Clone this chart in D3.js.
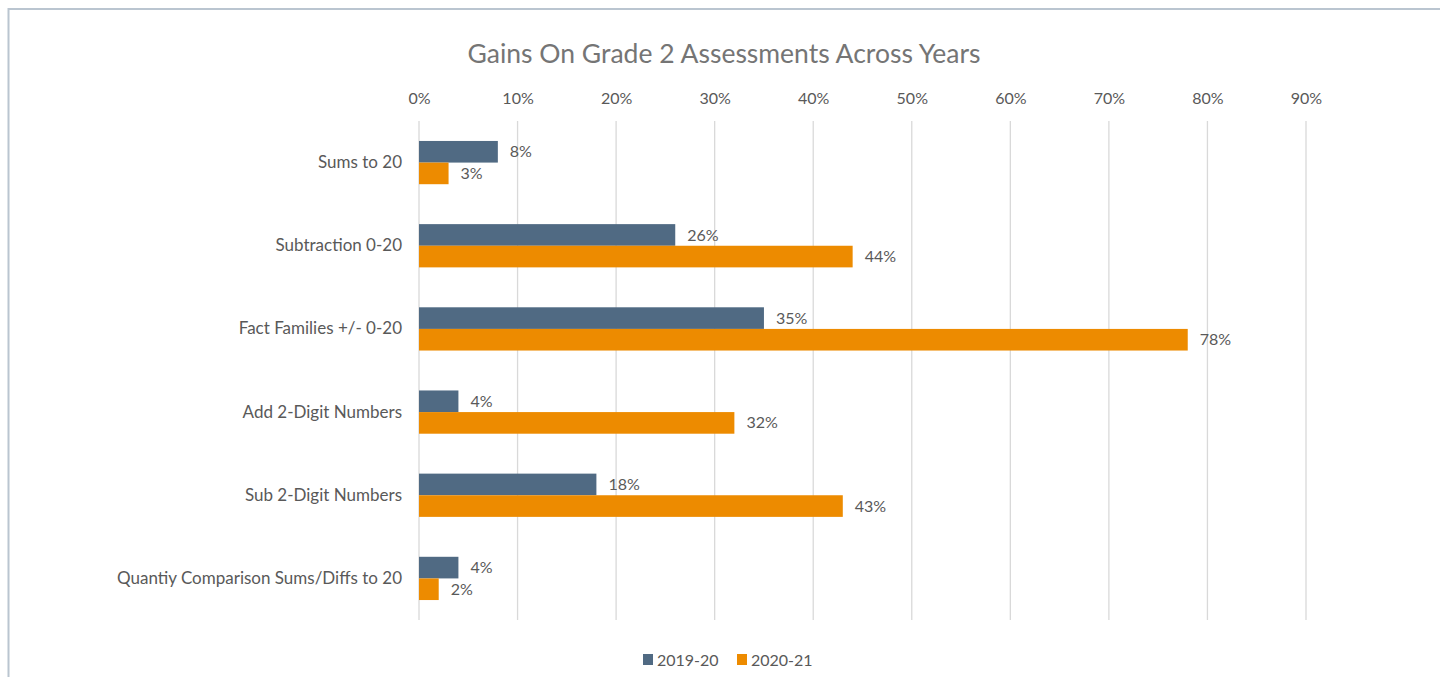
<!DOCTYPE html>
<html>
<head>
<meta charset="utf-8">
<script src="https://cdn.jsdelivr.net/npm/d3@7"></script>
<style>
  body { margin: 0; background: #fff; }
  svg { display: block; font-family: Lato, "Open Sans", sans-serif; }
</style>
</head>
<body>
<svg width="1440" height="677"></svg>
<script>
  const categories = [
    'Sums to 20',
    'Subtraction 0-20',
    'Fact Families +/- 0-20',
    'Add 2-Digit Numbers',
    'Sub 2-Digit Numbers',
    'Quantiy Comparison Sums/Diffs to 20'
  ];
  const seriesNames = ['2019-20', '2020-21'];
  const values1920 = [0.08, 0.26, 0.35, 0.04, 0.18, 0.04];
  const values2021 = [0.03, 0.44, 0.78, 0.32, 0.43, 0.02];
  const tickValues = [0, 0.1, 0.2, 0.3, 0.4, 0.5, 0.6, 0.7, 0.8, 0.9];

  const colors = ['#506A83', '#ED8B00'];
  const textColor = '#595959';

  const svg = d3.select('svg');

  // chart frame (cut off at right and bottom like the source)
  svg.append('rect')
    .attr('x', 8.5).attr('y', 9)
    .attr('width', 1500).attr('height', 800)
    .attr('fill', 'none')
    .attr('stroke', '#BAC5D0')
    .attr('stroke-width', 2);

  const x = d3.scaleLinear().domain([0, 0.9]).range([419, 1306]);
  const y = d3.scaleBand().domain(categories).range([121, 620]).paddingInner(0.48).paddingOuter(0.24);
  const sub = d3.scaleBand().domain(seriesNames).range([0, y.bandwidth()]);

  svg.append('text')
    .attr('x', 724).attr('y', 63)
    .attr('text-anchor', 'middle')
    .attr('fill', '#757575')
    .style('font-size', '26.5px')
    .text('Gains On Grade 2 Assessments Across Years');

  // gridlines
  svg.append('g').selectAll('line')
    .data(tickValues)
    .enter().append('line')
      .attr('x1', d => x(d)).attr('x2', d => x(d))
      .attr('y1', 121).attr('y2', 620)
      .attr('stroke', '#D9D9D9')
      .attr('stroke-width', 1.3);

  // top axis
  const axis = d3.axisTop(x).tickValues(tickValues).tickFormat(d3.format('.0%')).tickSize(0).tickPadding(0);
  const ag = svg.append('g').attr('transform', 'translate(0,104)').call(axis);
  ag.select('.domain').remove();
  ag.selectAll('text')
    .attr('fill', textColor)
    .style('font-size', '16px')
    .style('font-family', 'Lato, "Open Sans", sans-serif');

  // category axis
  const yAxis = d3.axisLeft(y).tickSize(0).tickPadding(0);
  const yg = svg.append('g').attr('transform', 'translate(402,0)').call(yAxis);
  yg.select('.domain').remove();
  yg.selectAll('text')
    .attr('fill', textColor)
    .style('font-size', '17px')
    .style('font-family', 'Lato, "Open Sans", sans-serif');

  const rows = categories.map((c, i) => ({
    cat: c,
    vals: [
      { s: seriesNames[0], v: values1920[i], c: colors[0] },
      { s: seriesNames[1], v: values2021[i], c: colors[1] }
    ]
  }));

  const groups = svg.append('g').selectAll('g')
    .data(rows)
    .enter().append('g')
      .attr('transform', d => `translate(0,${y(d.cat)})`);

  groups.selectAll('rect')
    .data(d => d.vals)
    .enter().append('rect')
      .attr('x', x(0))
      .attr('y', d => sub(d.s))
      .attr('width', d => x(d.v) - x(0))
      .attr('height', sub.bandwidth())
      .attr('fill', d => d.c);

  groups.selectAll('text')
    .data(d => d.vals)
    .enter().append('text')
      .attr('x', d => x(d.v) + 12)
      .attr('y', d => sub(d.s) + sub.bandwidth() / 2)
      .attr('dy', '0.35em')
      .attr('fill', textColor)
      .style('font-size', '16px')
      .text(d => d3.format('.0%')(d.v));

  // legend
  const legend = svg.append('g').attr('transform', 'translate(643,654)');
  const li = legend.selectAll('g')
    .data(seriesNames)
    .enter().append('g')
      .attr('transform', (d, i) => `translate(${i * 94},0)`);
  li.append('rect')
    .attr('width', 10).attr('height', 11)
    .attr('fill', (d, i) => colors[i]);
  li.append('text')
    .attr('x', 14).attr('y', 6)
    .attr('dy', '0.35em')
    .attr('fill', textColor)
    .style('font-size', '16px')
    .text(d => d);
</script>
</body>
</html>
